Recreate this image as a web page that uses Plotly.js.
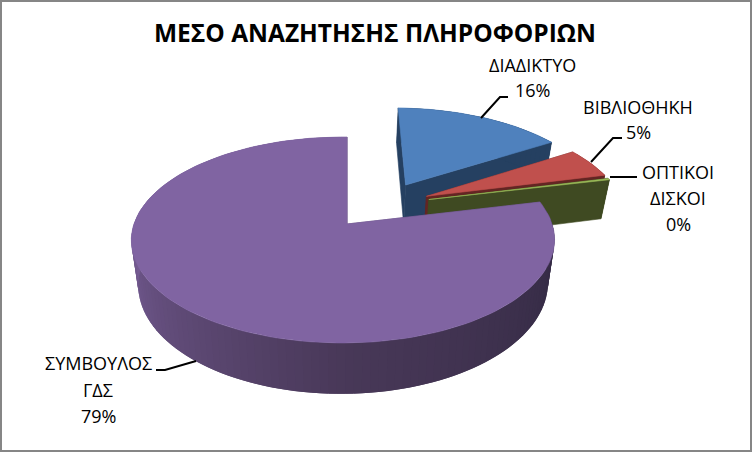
<!DOCTYPE html>
<html>
<head>
<meta charset="utf-8">
<script src="https://cdn.plot.ly/plotly-3.0.1.min.js"></script>
<style>html,body{margin:0;padding:0;background:#fff}#c{width:752px;height:452px}</style>
</head>
<body>
<div id="c"></div>
<script>
const chartTitle = "ΜΕΣΟ ΑΝΑΖΗΤΗΣΗΣ ΠΛΗΡΟΦΟΡΙΩΝ";
const categories = ["ΔΙΑΔΙΚΤΥΟ", "ΒΙΒΛΙΟΘΗΚΗ", "ΟΠΤΙΚΟΙ ΔΙΣΚΟΙ", "ΣΥΜΒΟΥΛΟΣ ΓΔΣ"];
const values = [16, 5, 0.3, 78.7];
const topColors = ["#4f81bd", "#c0504d", "#9bbb59", "#8064a2"];
const wallColors = ["#254061", "#632523", "#3f4a22", "#5a4676"];

// projection of the pie disc (u,v) + depth to page pixels
const FONT = "'Open Sans', sans-serif";
const X0 = 347, Y0 = 224, L = 209, K = 100.5, P = 0.155, Q = 0.019, D = 43, S = 0.968;
const explode = [[0.30, 0.415], [0.40, 0.29], [0.41, 0.255], [0, 0]];

function proj(u, v, low) {
  const w = 1 + P * v + Q * u;
  return low ? [X0 + S * L * u / w, Y0 - K * v / w + D / w] : [X0 + L * u / w, Y0 - K * v / w];
}
function disc(i, a) {
  const t = a * Math.PI / 180;
  return [explode[i][0] + Math.sin(t), explode[i][1] + Math.cos(t)];
}
function poly(pts, color, lw) {
  const xs = pts.map(p => p[0]), ys = pts.map(p => p[1]);
  xs.push(xs[0]); ys.push(ys[0]);
  return {type: "scatter", mode: "lines", x: xs, y: ys, fill: "toself", fillcolor: color,
    line: {color: color, width: lw === undefined ? 0.6 : lw}, hoverinfo: "skip", showlegend: false};
}
function lerp(a, b, t) { return a.map((c, i) => Math.round(c + (b[i] - c) * t)); }

const total = values.reduce((a, b) => a + b, 0);
const traces = [];
let cum = 0;
values.forEach((val, i) => {
  const a0 = cum / total * 360, a1 = (cum + val) / total * 360;
  cum += val;
  const apex = explode[i];
  const arc = [];
  const n = Math.max(4, Math.ceil((a1 - a0) / 2));
  for (let k = 0; k <= n; k++) arc.push(a0 + (a1 - a0) * k / n);

  const A = proj(apex[0], apex[1]), Ab = proj(apex[0], apex[1], true);
  const d0 = disc(i, a0), d1 = disc(i, a1);
  // cut walls
  traces.push(poly([A, proj(d0[0], d0[1]), proj(d0[0], d0[1], true), Ab], wallColors[i]));
  traces.push(poly([A, proj(d1[0], d1[1]), proj(d1[0], d1[1], true), Ab], wallColors[i]));
  // rim wall
  for (let k = 0; k < n; k++) {
    const p = disc(i, arc[k]), q = disc(i, arc[Math.min(n, k + 2)]);
    let col = wallColors[i];
    if (i === 3) {
      const m = (arc[k] + arc[k + 1]) / 2;          // shaded rim: dark on the right, light on the left
      const f = m < 180 ? 0 : Math.min(1, (m - 180) / 90);
      const lo = m < 180 ? lerp([46, 38, 62], [72, 56, 88], (m - 76) / 104) : lerp([72, 56, 88], [118, 92, 148], f);
      col = "rgb(" + lo.join(",") + ")";
    }
    traces.push(poly([proj(p[0], p[1]), proj(q[0], q[1]), proj(q[0], q[1], true), proj(p[0], p[1], true)], col, 0));
  }
  // top face
  const pts = [A];
  arc.forEach(a => { const d = disc(i, a); pts.push(proj(d[0], d[1])); });
  traces.push(poly(pts, topColors[i]));
});

// leader lines
const leaders = [
  [[481, 118], [500, 97], [508, 97]],
  [[591, 162], [613, 138], [622, 138]],
  [[610, 177], [637, 177]],
  [[196, 361], [165, 370], [156, 370]]
];
leaders.forEach(l => traces.push({type: "scatter", mode: "lines", x: l.map(p => p[0]), y: l.map(p => p[1]),
  line: {color: "#000", width: 2}, hoverinfo: "skip", showlegend: false}));

// labels: one annotation per text line
const labelLines = [["ΔΙΑΔΙΚΤΥΟ"], ["ΒΙΒΛΙΟΘΗΚΗ"], ["ΟΠΤΙΚΟΙ", "ΔΙΣΚΟΙ"], ["ΣΥΜΒΟΥΛΟΣ", "ΓΔΣ"]];
const labelPos = [[532, 65], [638, 107], [678, 172], [98, 363]];
const labelGap = [25, 24.5, 26, 26.5];
const annotations = [];
labelLines.forEach((lines, i) => {
  lines.concat([Math.round(values[i] / total * 100) + "%"]).forEach((t, j) => {
    annotations.push({xref: "x", yref: "y", x: labelPos[i][0], y: labelPos[i][1] + j * labelGap[i], text: t,
      showarrow: false, xanchor: "center", yanchor: "middle", font: {family: FONT, size: 18, color: "#000"}});
  });
});

const layout = {
  width: 752, height: 452, margin: {l: 0, r: 0, t: 0, b: 0},
  paper_bgcolor: "#fff", plot_bgcolor: "#fff", showlegend: false,
  title: {text: "<b>" + chartTitle + "</b>", x: 375 / 752, xanchor: "center", y: 1 - 33 / 452, yanchor: "middle",
    font: {family: FONT, size: 24.5, color: "#000"}},
  xaxis: {range: [0, 752], visible: false, fixedrange: true},
  yaxis: {range: [452, 0], visible: false, fixedrange: true},
  annotations: annotations,
  shapes: [{type: "rect", xref: "paper", yref: "paper", x0: 1 / 752, x1: 751 / 752, y0: 1 / 452, y1: 451 / 452,
    line: {color: "#868686", width: 2}, layer: "above"}]
};
Plotly.newPlot("c", traces, layout, {displayModeBar: false, staticPlot: true});
</script>
</body>
</html>
